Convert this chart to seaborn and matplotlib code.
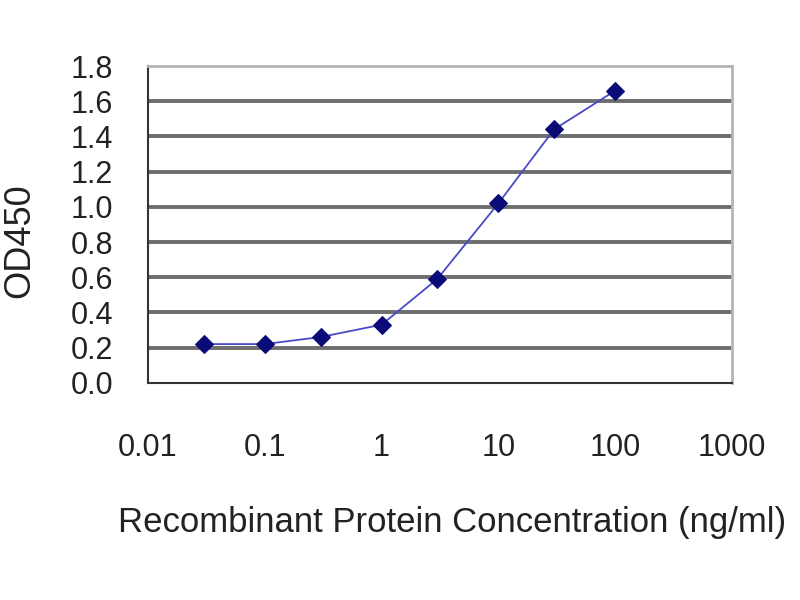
import numpy as np
import pandas as pd
import matplotlib
matplotlib.use("Agg")
import matplotlib.pyplot as plt
import seaborn as sns

# Données
concentration = [0.03, 0.1, 0.3, 1, 3, 10, 30, 100]
od450 = [0.22, 0.22, 0.26, 0.33, 0.59, 1.02, 1.44, 1.66]

x_ticks = [0.01, 0.1, 1, 10, 100, 1000]
x_tick_labels = ["0.01", "0.1", "1", "10", "100", "1000"]
y_ticks = [0.0, 0.2, 0.4, 0.6, 0.8, 1.0, 1.2, 1.4, 1.6, 1.8]
y_tick_labels = ["0.0", "0.2", "0.4", "0.6", "0.8", "1.0", "1.2", "1.4", "1.6", "1.8"]

df = pd.DataFrame({"conc": concentration, "od": od450})

sns.set_style("white")
plt.rcParams["font.family"] = ["Liberation Sans", "DejaVu Sans"]

fig = plt.figure(figsize=(8, 6), dpi=100)
ax = fig.add_axes([0.185, 0.362, 0.73, 0.528])

sns.lineplot(data=df, x="conc", y="od", ax=ax, color="#4a4ac8", linewidth=1.3,
             marker="D", markersize=9, markerfacecolor="#0a0a78",
             markeredgecolor="#0a0a78")

ax.set_xscale("log")
ax.set_xlim(0.01, 1000)
ax.set_ylim(0, 1.8)

ax.set_xticks(x_ticks)
ax.set_xticklabels(x_tick_labels)
ax.minorticks_off()
ax.set_yticks(y_ticks)
ax.set_yticklabels(y_tick_labels)

# Grille horizontale comme dans Excel
for v in y_ticks[1:-1]:
    ax.axhline(v, color="#6e6e6e", linewidth=2.8, zorder=0)

ax.tick_params(axis="x", direction="in", length=7, width=1.2, color="#333333",
               pad=36, labelsize=22, labelcolor="#222222")
ax.tick_params(axis="y", length=0, pad=25, labelsize=22, labelcolor="#222222")

for side in ["left", "bottom"]:
    ax.spines[side].set_color("#333333")
    ax.spines[side].set_linewidth(1.5)
for side in ["top", "right"]:
    ax.spines[side].set_color("#b5b5b5")
    ax.spines[side].set_linewidth(2)

ax.set_xlabel("Recombinant Protein Concentration (ng/ml)", fontsize=25, color="#222222")
ax.set_ylabel("OD450", fontsize=26, color="#222222")
ax.xaxis.set_label_coords(0.52, -0.39)
ax.yaxis.set_label_coords(-0.19, 0.45)

fig.savefig("out.png", dpi=100)
